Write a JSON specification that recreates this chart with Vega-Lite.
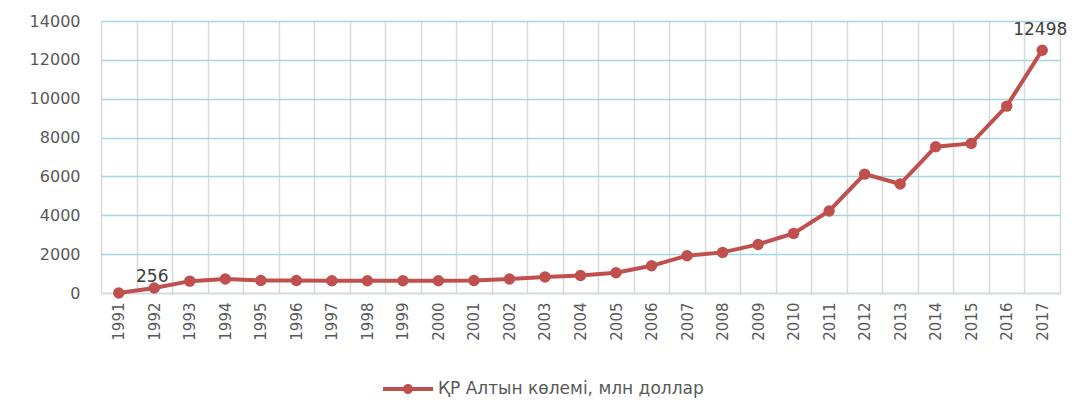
{
  "$schema": "https://vega.github.io/schema/vega-lite/v6.json",
  "width": 959,
  "height": 272,
  "autosize": {"type": "none"},
  "padding": {"left": 101, "top": 21, "right": 15, "bottom": 126},
  "background": "white",
  "config": {"view": {"stroke": null}, "font": "DejaVu Sans"},
  "data": {
    "values": [
      {"year": 1991, "value": 0, "series": "ҚР Алтын көлемі, млн доллар"},
      {"year": 1992, "value": 256, "series": "ҚР Алтын көлемі, млн доллар"},
      {"year": 1993, "value": 610, "series": "ҚР Алтын көлемі, млн доллар"},
      {"year": 1994, "value": 720, "series": "ҚР Алтын көлемі, млн доллар"},
      {"year": 1995, "value": 640, "series": "ҚР Алтын көлемі, млн доллар"},
      {"year": 1996, "value": 640, "series": "ҚР Алтын көлемі, млн доллар"},
      {"year": 1997, "value": 630, "series": "ҚР Алтын көлемі, млн доллар"},
      {"year": 1998, "value": 630, "series": "ҚР Алтын көлемі, млн доллар"},
      {"year": 1999, "value": 630, "series": "ҚР Алтын көлемі, млн доллар"},
      {"year": 2000, "value": 630, "series": "ҚР Алтын көлемі, млн доллар"},
      {"year": 2001, "value": 640, "series": "ҚР Алтын көлемі, млн доллар"},
      {"year": 2002, "value": 720, "series": "ҚР Алтын көлемі, млн доллар"},
      {"year": 2003, "value": 820, "series": "ҚР Алтын көлемі, млн доллар"},
      {"year": 2004, "value": 900, "series": "ҚР Алтын көлемі, млн доллар"},
      {"year": 2005, "value": 1045, "series": "ҚР Алтын көлемі, млн доллар"},
      {"year": 2006, "value": 1400, "series": "ҚР Алтын көлемі, млн доллар"},
      {"year": 2007, "value": 1920, "series": "ҚР Алтын көлемі, млн доллар"},
      {"year": 2008, "value": 2090, "series": "ҚР Алтын көлемі, млн доллар"},
      {"year": 2009, "value": 2500, "series": "ҚР Алтын көлемі, млн доллар"},
      {"year": 2010, "value": 3070, "series": "ҚР Алтын көлемі, млн доллар"},
      {"year": 2011, "value": 4220, "series": "ҚР Алтын көлемі, млн доллар"},
      {"year": 2012, "value": 6120, "series": "ҚР Алтын көлемі, млн доллар"},
      {"year": 2013, "value": 5610, "series": "ҚР Алтын көлемі, млн доллар"},
      {"year": 2014, "value": 7530, "series": "ҚР Алтын көлемі, млн доллар"},
      {"year": 2015, "value": 7700, "series": "ҚР Алтын көлемі, млн доллар"},
      {"year": 2016, "value": 9620, "series": "ҚР Алтын көлемі, млн доллар"},
      {"year": 2017, "value": 12498, "series": "ҚР Алтын көлемі, млн доллар"}
    ]
  },
  "encoding": {
    "x": {
      "field": "year",
      "type": "ordinal",
      "bandPosition": 0.5,
      "scale": {"type": "band", "paddingInner": 0, "paddingOuter": 0},
      "axis": {
        "title": null,
        "labelAngle": -90,
        "labelAlign": "right",
        "labelBaseline": "middle",
        "labelFontSize": 15,
        "labelColor": "#595959",
        "labelPadding": 9,
        "ticks": false,
        "domainColor": "#d9d9d9",
        "domainWidth": 1.5,
        "grid": true,
        "gridColor": "#d9d9d9",
        "gridWidth": 1.5,
        "tickBand": "extent"
      }
    },
    "y": {
      "field": "value",
      "type": "quantitative",
      "scale": {"domain": [0, 14000]},
      "axis": {
        "title": null,
        "values": [0, 2000, 4000, 6000, 8000, 10000, 12000, 14000],
        "format": "d",
        "domain": false,
        "ticks": false,
        "labelPadding": 21,
        "labelFontSize": 16,
        "labelColor": "#595959",
        "gridColor": "#a5d6e3",
        "gridWidth": 1.5
      }
    }
  },
  "layer": [
    {
      "mark": {"type": "line", "strokeWidth": 4, "point": {"size": 130, "filled": true}},
      "encoding": {
        "color": {
          "field": "series",
          "type": "nominal",
          "scale": {"range": ["#c0504d"]},
          "legend": {
            "title": null,
            "orient": "none",
            "legendX": 282,
            "legendY": 343,
            "symbolType": "M-1,-0.08L1,-0.08L1,0.08L-1,0.08Z M-0.2,0A0.2,0.2,0,1,1,0.2,0A0.2,0.2,0,1,1,-0.2,0Z",
            "symbolSize": 2500,
            "symbolFillColor": "#c0504d",
            "symbolStrokeWidth": 0,
            "labelFontSize": 17,
            "labelColor": "#595959",
            "labelOffset": 5,
            "labelLimit": 500,
            "encode": {
              "symbols": {
                "update": {
                  "fill": {"value": "#c0504d"},
                  "stroke": {"value": "#c0504d"},
                  "strokeWidth": {"value": 0},
                  "opacity": {"value": 1}
                }
              }
            }
          }
        }
      }
    },
    {
      "transform": [{"filter": {"field": "year", "equal": 1992}}],
      "mark": {"type": "text", "fontSize": 17, "color": "#404040", "baseline": "bottom", "dy": -2, "dx": -2},
      "encoding": {"text": {"field": "value", "type": "quantitative"}}
    },
    {
      "transform": [{"filter": {"field": "year", "equal": 2017}}],
      "mark": {"type": "text", "fontSize": 17, "color": "#404040", "baseline": "bottom", "dy": -11, "dx": -2},
      "encoding": {"text": {"field": "value", "type": "quantitative", "format": "d"}}
    }
  ]
}
